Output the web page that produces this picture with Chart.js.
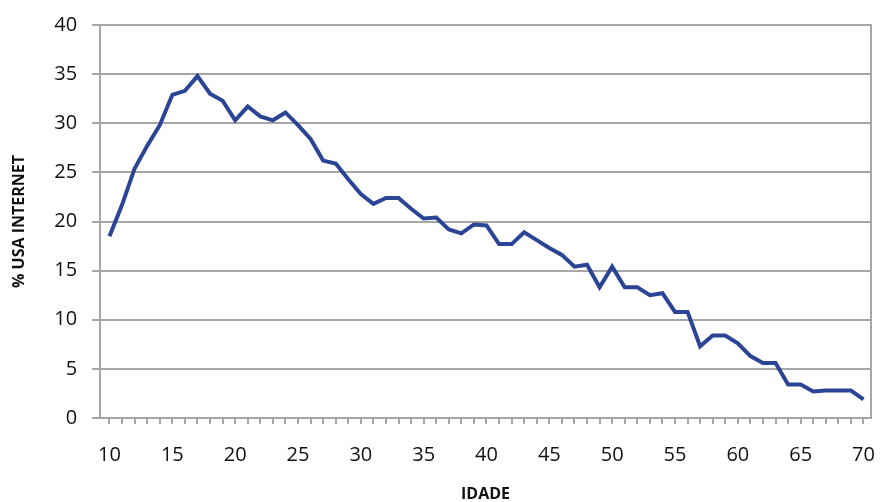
<!DOCTYPE html>
<html lang="pt">
<head>
    <meta charset="UTF-8">
    <meta name="viewport" content="width=device-width, initial-scale=1.0">
    <title>Uso da Internet por idade</title>
    <script src="https://cdn.jsdelivr.net/npm/chart.js"></script>
    <style>
        html, body { margin: 0; padding: 0; background: #fff; }
        #wrap { width: 894px; height: 502px; }
    </style>
</head>
<body>
    <div id="wrap"><canvas id="myChart" width="894" height="502"></canvas></div>

    <script>
        // idades (eixo x)
        var ages = [];
        for (var a = 10; a <= 70; a++) ages.push(a);

        // % que usa internet
        var usage = [
            18.5, 21.7, 25.4, 27.7, 29.8, 32.9, 33.3, 34.8, 33.0, 32.3,
            30.3, 31.7, 30.7, 30.3, 31.1, 29.8, 28.4, 26.2, 25.9, 24.3,
            22.8, 21.8, 22.4, 22.4, 21.3, 20.3, 20.4, 19.2, 18.8, 19.7,
            19.6, 17.7, 17.7, 18.9, 18.1, 17.3, 16.6, 15.4, 15.6, 13.3,
            15.4, 13.3, 13.3, 12.5, 12.7, 10.8, 10.8, 7.3, 8.4, 8.4,
            7.6, 6.3, 5.6, 5.6, 3.4, 3.4, 2.7, 2.8, 2.8, 2.8,
            1.9
        ];

        var xLabels = [10, 15, 20, 25, 30, 35, 40, 45, 50, 55, 60, 65, 70];
        var yTicks = [0, 5, 10, 15, 20, 25, 30, 35, 40];

        var gridGray = '#a6a6a6';
        var font = '"Open Sans", "Noto Sans", sans-serif';

        var points = ages.map(function (a, i) { return { x: a, y: usage[i] }; });

        var ctx = document.getElementById('myChart').getContext('2d');
        var myChart = new Chart(ctx, {
            type: 'line',
            data: {
                datasets: [{
                    data: points,
                    borderColor: '#2b4496',
                    borderWidth: 4,
                    pointRadius: 0,
                    tension: 0,
                    fill: false
                }]
            },
            options: {
                responsive: false,
                animation: false,
                layout: { padding: { top: 10, right: 7, left: 10, bottom: 0 } },
                plugins: {
                    legend: { display: false },
                    tooltip: { enabled: false }
                },
                scales: {
                    x: {
                        type: 'linear',
                        min: 9.25,
                        max: 70.6,
                        afterBuildTicks: function (scale) {
                            scale.ticks = ages.map(function (v) { return { value: v }; });
                        },
                        ticks: {
                            autoSkip: false,
                            maxRotation: 0,
                            padding: 19,
                            color: '#111',
                            font: { family: font, size: 20 },
                            callback: function (v) {
                                return xLabels.indexOf(v) >= 0 ? String(v) : '';
                            }
                        },
                        grid: {
                            drawOnChartArea: false,
                            drawTicks: true,
                            tickLength: 6,
                            color: gridGray,
                            lineWidth: 2
                        },
                        border: { color: gridGray, width: 2 },
                        title: {
                            display: true,
                            text: 'IDADE',
                            color: '#111',
                            font: { family: font, size: 16, weight: 'bold', lineHeight: 1 },
                            padding: { top: 0, bottom: 0 }
                        }
                    },
                    y: {
                        min: 0,
                        max: 40,
                        afterBuildTicks: function (scale) {
                            scale.ticks = yTicks.map(function (v) { return { value: v }; });
                        },
                        ticks: {
                            padding: 15,
                            color: '#111',
                            font: { family: font, size: 20, lineHeight: 1 }
                        },
                        grid: {
                            color: gridGray,
                            lineWidth: 2,
                            tickLength: 8
                        },
                        border: { color: gridGray, width: 2 },
                        title: {
                            display: true,
                            text: '% USA INTERNET',
                            color: '#111',
                            font: { family: font, size: 16, weight: 'bold' },
                            padding: { top: 0, bottom: 10 }
                        }
                    },
                    yRight: {
                        position: 'right',
                        min: 0,
                        max: 40,
                        ticks: { display: false },
                        grid: { drawOnChartArea: false, drawTicks: false },
                        border: { color: gridGray, width: 2 }
                    }
                }
            }
        });
    </script>
</body>
</html>
